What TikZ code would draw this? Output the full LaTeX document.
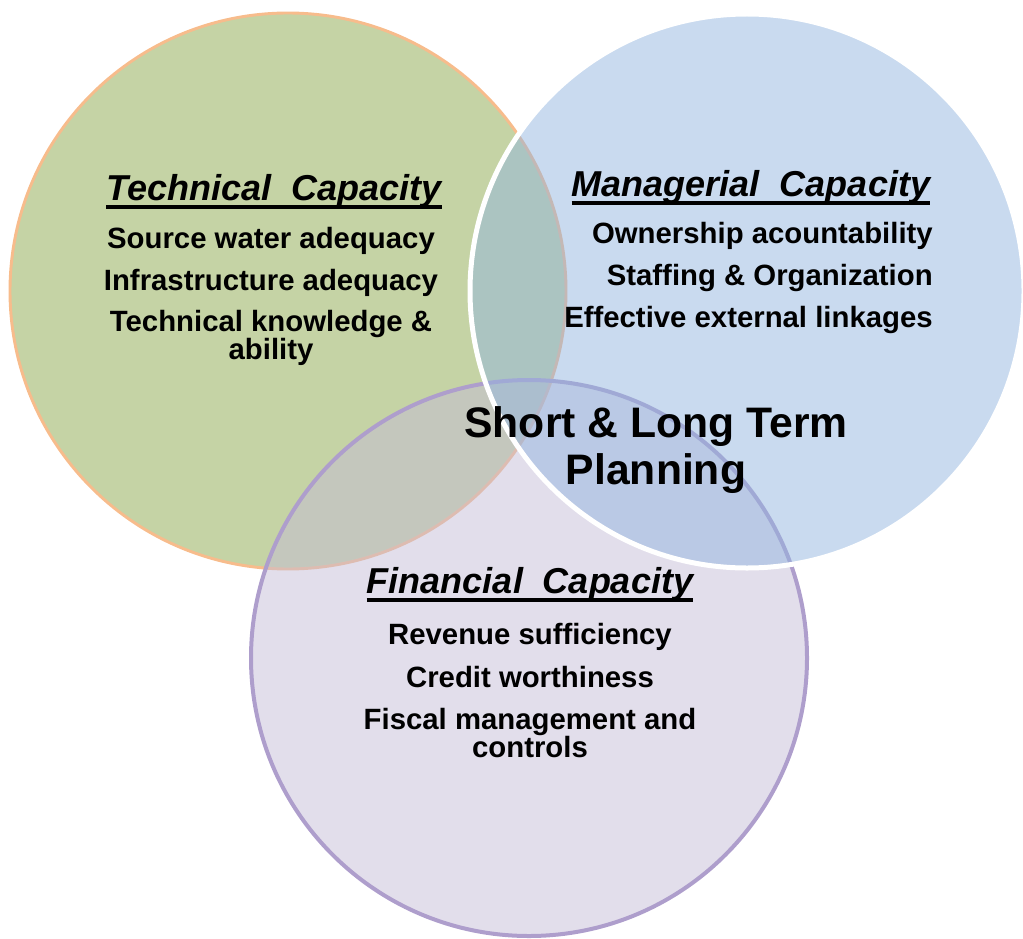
\documentclass[tikz,border=0pt]{standalone}
\usepackage{fontspec}
\setmainfont{Liberation Sans}
\usepackage{tikz}
\usetikzlibrary{calc}

\definecolor{techfill}{RGB}{139,167,75}
\definecolor{techline}{RGB}{247,188,140}
\definecolor{mgmtfill}{RGB}{147,181,223}
\definecolor{finfill}{RGB}{197,189,215}
\definecolor{finline}{RGB}{174,158,204}

\begin{document}
\begin{tikzpicture}[x=0.75pt,y=0.75pt,yscale=-1,xscale=1,
  captitle/.style={font=\fontsize{27}{30}\selectfont\bfseries\itshape, inner sep=0pt, anchor=base},
  listitem/.style={font=\fontsize{22}{21}\selectfont\bfseries, inner sep=0pt, align=center},
  capline/.style={line width=2.6pt}]
%set diagram left start at 0, and has height of 938
\useasboundingbox (0,0) rectangle (1023,938);

%Shape: Circle [id:technical]
\draw [draw=techline, line width=2.2pt, fill=techfill, fill opacity=0.5] (288,291) circle [radius=278];
%Shape: Circle [id:financial]
\draw [draw=finline, line width=3pt, fill=finfill, fill opacity=0.5] (529,658) circle [radius=278];
%Shape: Circle [id:managerial]
\draw [draw=white, line width=3.75pt, fill=mgmtfill, fill opacity=0.5] (747,291) circle [radius=277];

% Text Node
\draw (274,200) node (techcap) [captitle] {Technical\ \ Capacity};
\draw [capline] ($(techcap.base west)+(0,7)$) -- ($(techcap.base east)+(0,7)$);
% Text Node
\draw (271,248) node (srcwater) [listitem, anchor=base] {Source water adequacy};
% Text Node
\draw (271,290) node (infra) [listitem, anchor=base] {Infrastructure adequacy};
% Text Node
\draw (271,338) node (knowhow) [listitem] {Technical knowledge \&\\ability};

% Text Node
\draw (751,196) node (mgmtcap) [captitle] {Managerial\ \ Capacity};
\draw [capline] ($(mgmtcap.base west)+(0,7)$) -- ($(mgmtcap.base east)+(0,7)$);
% Text Node
\draw (933,243) node (owner) [listitem, anchor=base east] {Ownership acountability};
% Text Node
\draw (933,285) node (staff) [listitem, anchor=base east] {Staffing \& Organization};
% Text Node
\draw (933,327) node (links) [listitem, anchor=base east] {Effective external linkages};

% Text Node
\draw (530,593) node (fincap) [captitle] {Financial\ \ Capacity};
\draw [capline] ($(fincap.base west)+(0,7)$) -- ($(fincap.base east)+(0,7)$);
% Text Node
\draw (530,644) node (revenue) [listitem, anchor=base] {Revenue sufficiency};
% Text Node
\draw (530,687) node (credit) [listitem, anchor=base] {Credit worthiness};
% Text Node
\draw (530,733) node (fiscal) [listitem] {Fiscal management and\\controls};

% Text Node
\draw (656,450) node (planning) [font=\fontsize{32}{35}\selectfont\bfseries, align=center, inner sep=0pt] {Short \& Long Term\\Planning};

\end{tikzpicture}
\end{document}
